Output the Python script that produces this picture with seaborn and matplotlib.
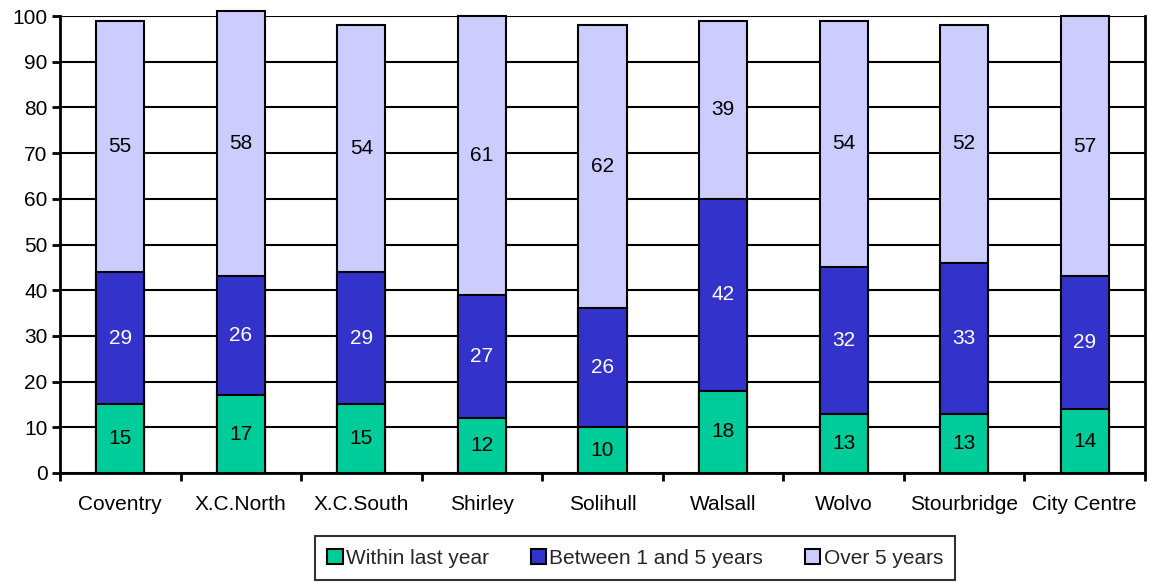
import matplotlib
matplotlib.use("Agg")
import matplotlib.pyplot as plt
import seaborn as sns
import numpy as np
import pandas as pd
from matplotlib.patches import Patch

sites = ["Coventry", "X.C.North", "X.C.South", "Shirley", "Solihull",
         "Walsall", "Wolvo", "Stourbridge", "City Centre"]
within_last_year = [15, 17, 15, 12, 10, 18, 13, 13, 14]
between_1_and_5 = [29, 26, 29, 27, 26, 42, 32, 33, 29]
over_5_years = [55, 58, 54, 61, 62, 39, 54, 52, 57]
series_names = ["Within last year", "Between 1 and 5 years", "Over 5 years"]
series_colors = ["#00CC99", "#3333CC", "#CCCCFF"]
label_colors = ["black", "white", "black"]
y_ticks = list(range(0, 101, 10))

sns.set_theme(style="white")
plt.rcParams["font.family"] = ["Liberation Sans", "DejaVu Sans"]

FS = 15

series = [np.array(within_last_year), np.array(between_1_and_5), np.array(over_5_years)]
bottoms = [np.zeros(len(sites)), series[0], series[0] + series[1]]
tops = [b + s for b, s in zip(bottoms, series)]

fig = plt.figure(figsize=(11.5, 5.83), dpi=100)
ax = fig.add_axes([60 / 1150, 110 / 583, 1085 / 1150, 457 / 583])

# cumulative totals drawn from the top segment down so each layer covers the one above
for k in (2, 1, 0):
    df = pd.DataFrame({"site": sites, "value": tops[k]})
    sns.barplot(data=df, x="site", y="value", color=series_colors[k],
                width=0.4, edgecolor="black", linewidth=1.5,
                saturation=1, ax=ax, zorder=3, clip_on=False)

for k in range(3):
    for i in range(len(sites)):
        ax.text(i, bottoms[k][i] + series[k][i] / 2, f"{series[k][i]}",
                ha="center", va="center", fontsize=FS,
                color=label_colors[k], zorder=5)

ax.set_xlim(-0.5, len(sites) - 0.5)
ax.set_ylim(0, 100)
ax.set_yticks(y_ticks)
ax.set_xlabel("")
ax.set_ylabel("")
ax.grid(axis="y", color="black", linewidth=1.5, zorder=0)
ax.set_axisbelow(True)
for side in ("left", "bottom", "right"):
    ax.spines[side].set_visible(True)
    ax.spines[side].set_color("black")
    ax.spines[side].set_linewidth(2)
ax.spines["top"].set_visible(False)

ax.set_xticks(np.arange(len(sites)))
ax.set_xticklabels(sites)
ax.set_xticks(np.arange(-0.5, len(sites)), minor=True)
ax.tick_params(axis="x", which="major", length=0, pad=16, labelsize=FS, colors="black")
ax.tick_params(axis="x", which="minor", length=6, width=2, color="black", direction="out", bottom=True)
ax.tick_params(axis="y", which="major", length=6, width=2, color="black", direction="out",
               left=True, pad=3, labelsize=FS, labelcolor="black")

handles = [Patch(facecolor=c, edgecolor="black", linewidth=1.5) for c in series_colors]
leg = fig.legend(handles, series_names, loc="center", ncol=3,
                 bbox_to_anchor=(635 / 1150, 1 - 558 / 583), fontsize=FS,
                 frameon=True, fancybox=False, handlelength=0.75, handleheight=0.75,
                 handletextpad=0.15, columnspacing=2.0, borderpad=0.6)
leg.get_frame().set_edgecolor("black")
leg.get_frame().set_linewidth(1.5)

fig.savefig("out.png", dpi=100, facecolor="white")
